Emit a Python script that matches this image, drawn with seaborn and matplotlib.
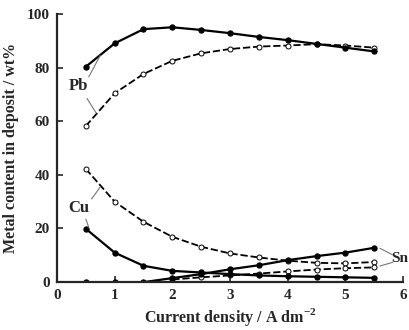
import matplotlib
matplotlib.use("Agg")
import matplotlib.pyplot as plt
import seaborn as sns
import pandas as pd

sns.set_theme(style="ticks")
plt.rcParams['font.family'] = ['Liberation Serif', 'DejaVu Serif']
plt.rcParams['font.weight'] = 'bold'
plt.rcParams['mathtext.fontset'] = 'custom'
plt.rcParams['mathtext.rm'] = 'Liberation Serif:bold'
plt.rcParams['mathtext.bf'] = 'Liberation Serif:bold'

x_all = [0.5, 1.0, 1.5, 2.0, 2.5, 3.0, 3.5, 4.0, 4.5, 5.0, 5.5]
pb_solid = [80.3, 89.0, 94.3, 95.0, 94.0, 92.8, 91.4, 90.2, 88.8, 87.4, 86.0]
pb_dashed = [58.2, 70.4, 77.6, 82.5, 85.3, 86.9, 87.8, 88.2, 88.7, 88.2, 87.4]
cu_dashed = [42.2, 30.0, 22.5, 16.9, 13.2, 10.7, 9.2, 8.0, 7.2, 7.0, 7.5]
cu_solid = [19.9, 11.0, 6.1, 4.2, 3.6, 3.0, 2.5, 2.2, 2.0, 1.8, 1.6]
sn_solid = [0.0, 0.0, 0.0, 1.5, 3.0, 4.8, 6.3, 8.2, 9.7, 11.0, 12.8]
x_sn_dashed = [2.0, 2.5, 3.0, 3.5, 4.0, 4.5, 5.0, 5.5]
sn_dashed = [1.0, 1.8, 2.5, 3.2, 4.0, 4.7, 5.2, 5.5]

fig = plt.figure(figsize=(4.1, 3.3), dpi=100)
ax = fig.add_axes([0.139, 0.145, 0.844, 0.813])

def draw(xs, ys, dashed):
    df = pd.DataFrame({"x": xs, "y": ys})
    if dashed:
        sns.lineplot(data=df, x="x", y="y", ax=ax, color="black", lw=1.3,
                     marker="o", markersize=3.6, markerfacecolor="white",
                     markeredgecolor="black", markeredgewidth=0.7,
                     dashes=False, linestyle=(0, (4, 1.6)))
    else:
        sns.lineplot(data=df, x="x", y="y", ax=ax, color="black", lw=1.6,
                     marker="o", markersize=3.8, markerfacecolor="black",
                     markeredgecolor="black")

draw(x_all, pb_dashed, True)
draw(x_all, cu_dashed, True)
draw(x_sn_dashed, sn_dashed, True)
draw(x_all, pb_solid, False)
draw(x_all, cu_solid, False)
draw(x_all, sn_solid, False)

ax.set_xlim(0, 6)
ax.set_ylim(0, 100)
ax.set_xticks([0, 1, 2, 3, 4, 5, 6])
ax.set_yticks([0, 20, 40, 60, 80, 100])
ax.tick_params(direction="in", length=4, width=1.2, labelsize=11, pad=5)
for lab in ax.get_xticklabels() + ax.get_yticklabels():
    lab.set_fontweight("bold")
for s in ["left", "bottom"]:
    ax.spines[s].set_linewidth(1.6)
sns.despine(ax=ax)
ax.set_xlabel("Current density / A dm$^{-2}$", fontsize=11.5, fontweight="bold", labelpad=3)
ax.set_ylabel("Metal content in deposit / wt%", fontsize=11.5, fontweight="bold", labelpad=6)

gray = "#777777"
ax.text(0.38, 73, "Pb", fontsize=12, fontweight="bold", ha="center", va="center")
ax.plot([0.55, 0.75], [76.5, 84.5], color=gray, lw=0.8)
ax.plot([0.52, 0.68], [68.5, 63], color=gray, lw=0.8)
ax.text(0.38, 27.5, "Cu", fontsize=12, fontweight="bold", ha="center", va="center")
ax.plot([0.6, 0.75], [31, 35.5], color=gray, lw=0.8)
ax.plot([0.5, 0.55], [23.5, 20.5], color=gray, lw=0.8)
ax.text(5.8, 8.8, "Sn", fontsize=11, fontweight="bold", ha="left", va="center", clip_on=False)
ax.plot([5.6, 5.82], [12.6, 10.2], color=gray, lw=0.8)
ax.plot([5.6, 5.82], [6.0, 7.4], color=gray, lw=0.8)

fig.savefig("out.png", dpi=100)
